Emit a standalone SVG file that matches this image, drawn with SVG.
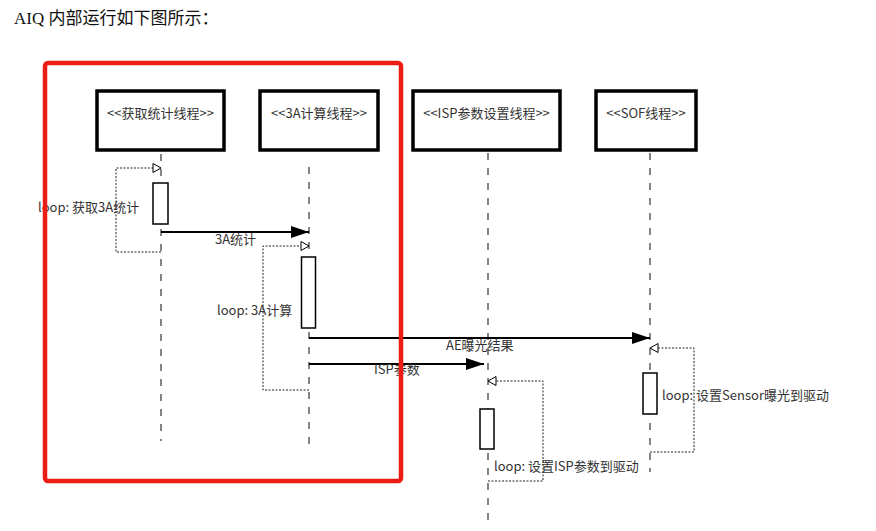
<svg xmlns="http://www.w3.org/2000/svg" width="876" height="531" viewBox="0 0 876 531">
<defs>
<style>
.title{font-family:"Liberation Serif","Noto Sans CJK SC",serif;font-size:17px;fill:#111}
.lbl{font-family:"Noto Sans CJK SC","Noto Sans",sans-serif;font-size:13px;fill:#333}
.box{fill:#fff;stroke:#000;stroke-width:3.5}
.act{fill:#fff;stroke:#000;stroke-width:1.5}
.life{fill:none;stroke:#444;stroke-width:1.3;stroke-dasharray:7 8}
.msg{fill:none;stroke:#000;stroke-width:2}
.loop{fill:none;stroke:#222;stroke-width:1;stroke-dasharray:2 1.5}
</style>
<marker id="fill" viewBox="0 0 18 12" refX="18" refY="6" markerWidth="18" markerHeight="12" markerUnits="userSpaceOnUse" orient="auto">
<path d="M0,0 L18,6 L0,12 Z" fill="#000"/>
</marker>
<marker id="open" viewBox="0 0 10 10" refX="9" refY="5" markerWidth="10" markerHeight="10" markerUnits="userSpaceOnUse" orient="auto">
<path d="M1,0.5 L9,5 L1,9.5 Z" fill="#fff" stroke="#000" stroke-width="1"/>
</marker>
</defs>
<rect width="876" height="531" fill="#fff"/>
<text class="title" x="14" y="24">AIQ 内部运行如下图所示：</text>

<g id="lifelines">
<line class="life" x1="161" y1="154" x2="161" y2="441"/>
<line class="life" x1="309" y1="167" x2="309" y2="448"/>
<line class="life" x1="488" y1="153" x2="488" y2="522"/>
<line class="life" x1="650" y1="153" x2="650" y2="472"/>
</g>

<g id="node-stats">
<rect class="box" x="97" y="91" width="127" height="59"/>
<text class="lbl" x="160.5" y="118" text-anchor="middle">&lt;&lt;获取统计线程&gt;&gt;</text>
</g>
<g id="node-3a">
<rect class="box" x="260" y="91" width="118" height="59"/>
<text class="lbl" x="319" y="118" text-anchor="middle">&lt;&lt;3A计算线程&gt;&gt;</text>
</g>
<g id="node-isp">
<rect class="box" x="413" y="91" width="147" height="59"/>
<text class="lbl" x="486.5" y="118" text-anchor="middle">&lt;&lt;ISP参数设置线程&gt;&gt;</text>
</g>
<g id="node-sof">
<rect class="box" x="596" y="91" width="100" height="59"/>
<text class="lbl" x="646" y="118" text-anchor="middle">&lt;&lt;SOF线程&gt;&gt;</text>
</g>

<g id="connectors">
<path class="loop" d="M161,252 H116 V168 H161" marker-end="url(#open)"/>
<path class="loop" d="M309,390 H263 V246 H309" marker-end="url(#open)"/>
<path class="loop" d="M488,481 H543 V381 H488" marker-end="url(#open)"/>
<path class="loop" d="M650,452 H694 V348 H650" marker-end="url(#open)"/>
<line class="msg" x1="161" y1="232" x2="309" y2="232" marker-end="url(#fill)"/>
<line class="msg" x1="309" y1="338" x2="650" y2="338" marker-end="url(#fill)"/>
<line class="msg" x1="309" y1="364" x2="484" y2="364" marker-end="url(#fill)"/>
</g>

<g id="activations">
<rect class="act" x="153" y="183" width="15" height="41"/>
<rect class="act" x="301.5" y="257" width="14" height="71"/>
<rect class="act" x="480" y="409" width="14" height="40"/>
<rect class="act" x="643" y="373" width="14" height="41"/>
</g>

<g id="labels">
<text class="lbl" x="38" y="212">loop: 获取3A统计</text>
<text class="lbl" x="215" y="244">3A统计</text>
<text class="lbl" x="217" y="315">loop: 3A计算</text>
<text class="lbl" x="446" y="350">AE曝光结果</text>
<text class="lbl" x="374" y="374">ISP参数</text>
<text class="lbl" x="494" y="471">loop: 设置ISP参数到驱动</text>
<text class="lbl" x="662" y="400">loop: 设置Sensor曝光到驱动</text>
</g>

<rect id="highlight" x="45" y="63" width="356" height="418" rx="3" fill="none" stroke="#ec1c16" stroke-width="4.5"/>
</svg>
